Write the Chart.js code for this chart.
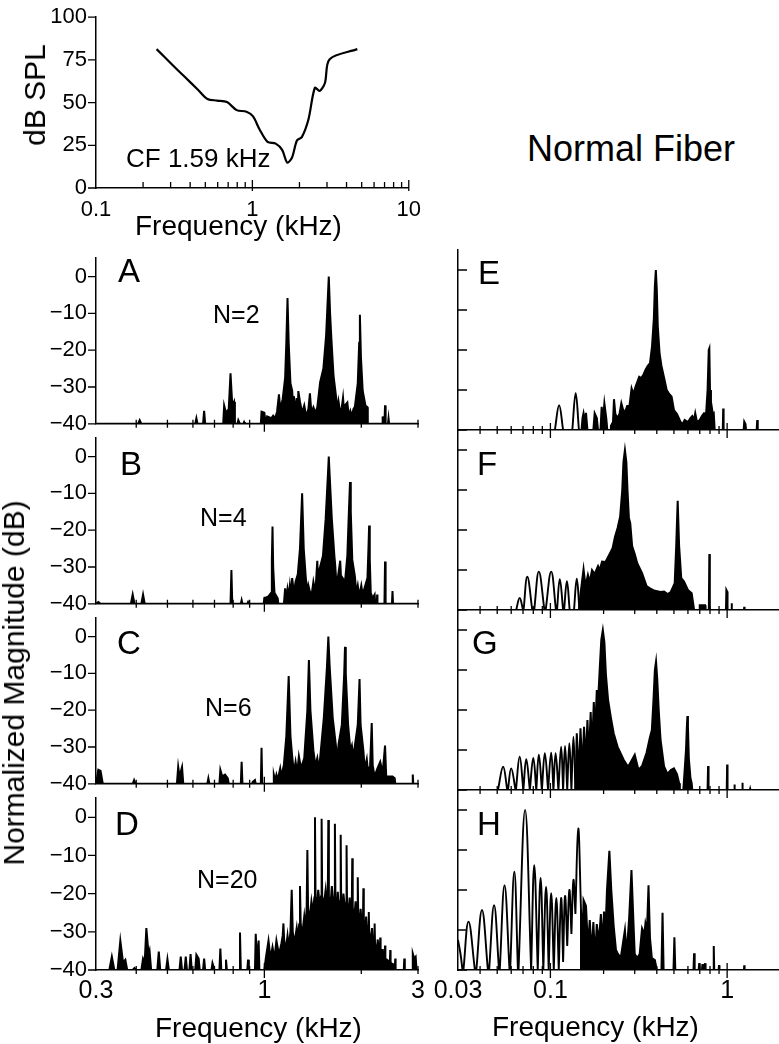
<!DOCTYPE html>
<html>
<head>
<meta charset="utf-8">
<script src="https://cdn.jsdelivr.net/npm/chart.js@4.4.1/dist/chart.umd.min.js"></script>
<style>
  body { margin: 0; width: 779px; height: 1044px; position: relative; overflow: hidden; background: #fff;
         font-family: "Liberation Sans", Arial, sans-serif; color: #000; }
  canvas { position: absolute; }
  .t { position: absolute; line-height: 1; white-space: nowrap; }
  .rot { transform: translate(-50%, -50%) rotate(-90deg); }
</style>
</head>
<body>
<canvas id="tc" width="430" height="250" style="left:0;top:-5px"></canvas>
<canvas id="pA" width="440" height="210" style="left:0;top:236px"></canvas>
<canvas id="pB" width="440" height="210" style="left:0;top:416px"></canvas>
<canvas id="pC" width="440" height="210" style="left:0;top:596px"></canvas>
<canvas id="pD" width="440" height="239" style="left:0;top:776px"></canvas>
<canvas id="pE" width="359" height="210" style="left:420px;top:236px"></canvas>
<canvas id="pF" width="359" height="210" style="left:420px;top:416px"></canvas>
<canvas id="pG" width="359" height="210" style="left:420px;top:596px"></canvas>
<canvas id="pH" width="359" height="239" style="left:420px;top:776px"></canvas>

<div class="t rot" style="left:35px;top:95px;font-size:30px">dB SPL</div>
<div class="t" style="left:135px;top:212px;font-size:28px">Frequency (kHz)</div>
<div class="t" style="left:126px;top:145px;font-size:26px">CF 1.59 kHz</div>
<div class="t" style="left:527px;top:131px;font-size:36px">Normal Fiber</div>
<div class="t rot" style="left:14px;top:683px;font-size:30px">Normalized Magnitude (dB)</div>
<div class="t" style="left:155px;top:1014px;font-size:28px">Frequency (kHz)</div>
<div class="t" style="left:492px;top:1013px;font-size:28px">Frequency (kHz)</div>

<div class="t" style="left:118px;top:254px;font-size:33px">A</div>
<div class="t" style="left:120px;top:447px;font-size:33px">B</div>
<div class="t" style="left:117px;top:626px;font-size:33px">C</div>
<div class="t" style="left:115px;top:807px;font-size:33px">D</div>
<div class="t" style="left:478px;top:256px;font-size:33px">E</div>
<div class="t" style="left:477px;top:447px;font-size:33px">F</div>
<div class="t" style="left:472px;top:626px;font-size:33px">G</div>
<div class="t" style="left:477px;top:807px;font-size:33px">H</div>

<div class="t" style="left:213px;top:302px;font-size:25px">N=2</div>
<div class="t" style="left:200px;top:505px;font-size:25px">N=4</div>
<div class="t" style="left:205px;top:695px;font-size:25px">N=6</div>
<div class="t" style="left:197px;top:867px;font-size:25px">N=20</div>

<script>
// tuning curve (threshold vs frequency)
const tcFreq = [0.244, 0.304, 0.369, 0.447, 0.516, 0.596, 0.688, 0.794, 0.917, 1.01, 1.11, 1.25, 1.41, 1.55, 1.67, 1.79, 1.93, 2.07, 2.28, 2.51, 2.69, 2.91, 3.12, 4.69];
const tcDb   = [81.3, 72.6, 65.1, 57.7, 52.1, 51.2, 50.3, 45.6, 44.7, 41.9, 34.4, 27, 26, 22.3, 14.9, 17.7, 27.9, 29.8, 40, 58.7, 56.8, 61.5, 75.4, 81.3];

// ticks
const tcXTicks = [0.2, 0.3, 0.4, 0.5, 0.6, 0.7, 0.8, 0.9, 1, 2, 3, 4, 5, 6, 7, 8, 9, 10];
const tcXLabels = { 0.1: '0.1', 1: '1', 10: '10' };
const tcYTicks = [0, 25, 50, 75, 100];
const leftXTicks = [0.4, 0.5, 0.6, 0.7, 0.8, 0.9, 1, 2, 3];
const leftXLabels = { 0.3: '0.3', 1: '1', 3: '3' };
const rightXTicks = [0.04, 0.05, 0.06, 0.07, 0.08, 0.09, 0.1, 0.2, 0.3, 0.4, 0.5, 0.6, 0.7, 0.8, 0.9, 1];
const rightXLabels = { 0.03: '0.03', 0.1: '0.1', 1: '1' };
const magTicks = [-40, -30, -20, -10, 0];

// spectra, [kHz, dB]
const traceA = [[0.3,-40],[0.405,-40],[0.41,-39],[0.415,-40],[0.61,-40],[0.615,-38.5],[0.62,-40],[0.645,-40],[0.65,-36.5],[0.655,-40],
  [0.745,-40],[0.75,-35],[0.76,-37],[0.775,-36],[0.785,-26.3],[0.795,-35],[0.805,-34],[0.81,-40],[0.825,-40],[0.83,-39],[0.84,-40],[0.86,-40],[0.865,-39.5],[0.87,-40],
  [0.975,-40],[0.98,-36.7],[1.0,-37],[1.01,-40],[1.02,-38],[1.05,-38.5],[1.065,-37.8],[1.08,-38.5],[1.095,-36.7],[1.11,-32],[1.12,-36],[1.14,-33.3],[1.16,-27.5],[1.17,-18],[1.18,-5.8],[1.19,-18],[1.205,-29],
  [1.22,-31],[1.23,-36],[1.235,-32.5],[1.25,-37],[1.26,-33],[1.27,-36],[1.275,-31.1],[1.29,-34],[1.31,-37],[1.33,-35],[1.35,-38],[1.37,-36],[1.385,-31.7],[1.4,-37],[1.42,-35.5],[1.44,-37],[1.46,-35.5],[1.49,-28.7],[1.525,-25],[1.555,-16],[1.57,-8],[1.585,0],[1.6,-10],[1.615,-17],[1.64,-27],[1.67,-32.7],
  [1.69,-36],[1.7,-34],[1.72,-37],[1.74,-35.5],[1.755,-32.9],[1.77,-37],[1.78,-35],[1.81,-34.2],[1.83,-38],[1.85,-36.5],[1.87,-38],[1.89,-36],[1.91,-35.4],[1.95,-29],[1.97,-18],[1.98,-10.4],[1.995,-22],[2.02,-31],[2.06,-35],[2.09,-35.5],[2.095,-40],
  [2.32,-40],[2.33,-38],[2.34,-40],[2.36,-40],[2.37,-35],[2.38,-40],[2.42,-40],[2.43,-38.5],[2.44,-40],[3,-40]];

const traceB = [[0.3,-40],[0.305,-39.5],[0.31,-40],[0.385,-40],[0.39,-37.5],[0.395,-40],[0.415,-40],[0.42,-37.5],[0.425,-40],
  [0.785,-40],[0.79,-30.8],[0.795,-40],[0.845,-40],[0.85,-39],[0.855,-40],[0.885,-40],[0.89,-39.5],[0.895,-40],
  [0.995,-40],[1.0,-38.5],[1.03,-38],[1.05,-37],[1.055,-28],[1.06,-19],[1.065,-30],[1.075,-37],[1.1,-38.5],[1.105,-40],
  [1.15,-40],[1.16,-35.8],[1.17,-39],[1.18,-36],[1.19,-38],[1.2,-35],[1.21,-38],[1.22,-33],[1.235,-37],[1.25,-34],[1.27,-32],[1.29,-25],[1.31,-10],[1.325,-25],[1.345,-33],[1.36,-37],[1.37,-35],[1.385,-36.7],
  [1.4,-38],[1.42,-34],[1.44,-37],[1.46,-28.3],[1.47,-35],[1.48,-31],[1.52,-27],[1.55,-17],[1.575,-5],[1.585,0],[1.595,-5],[1.62,-17],[1.65,-27],[1.66,-29.6],[1.675,-35],[1.69,-33],[1.72,-28.3],[1.735,-35],[1.75,-33],[1.78,-34],[1.81,-27],[1.83,-15],[1.845,-6.9],[1.855,-15],[1.875,-28],
  [1.91,-32.5],[1.93,-37],[1.95,-35],[1.97,-38],[2.0,-35],[2.02,-37.5],[2.05,-35.5],[2.09,-33],[2.105,-25],[2.115,-18.7],[2.125,-28],[2.14,-37],[2.17,-38.5],[2.2,-37.5],[2.21,-40],
  [2.235,-40],[2.24,-37.5],[2.245,-40],[2.36,-40],[2.37,-28.5],[2.38,-40],[2.49,-40],[2.5,-36.5],[2.51,-40],[3,-40]];

const traceC = [[0.3,-40],[0.305,-36.2],[0.31,-36.5],[0.315,-40],[0.39,-40],[0.394,-39],[0.398,-40],
  [0.535,-40],[0.54,-35.4],[0.545,-38],[0.555,-35.4],[0.56,-40],[0.665,-40],[0.67,-38.5],[0.675,-40],
  [0.725,-40],[0.73,-36.2],[0.74,-38],[0.755,-37.5],[0.77,-38.5],[0.775,-40],[0.845,-40],[0.85,-34],[0.855,-40],[0.915,-40],[0.92,-39.5],[0.935,-39],[0.94,-40],
  [0.975,-40],[0.98,-30.2],[0.985,-40],[1.065,-40],[1.07,-37.5],[1.08,-39],[1.09,-37.5],[1.1,-39],[1.12,-35.8],[1.13,-38],[1.15,-34.8],[1.17,-27],[1.19,-10.7],[1.205,-27],[1.22,-32.5],[1.235,-37],[1.25,-34],[1.265,-37],[1.28,-32.5],[1.3,-35.8],
  [1.33,-33],[1.36,-20],[1.375,-6.4],[1.39,-20],[1.42,-31],[1.44,-35],[1.46,-33],[1.475,-36],[1.49,-33],[1.53,-22],[1.565,-8],[1.58,0],[1.595,-8],[1.63,-22],[1.67,-30],[1.685,-34],[1.7,-29.2],[1.74,-24],[1.77,-10],[1.78,-2.8],[1.79,-10],[1.82,-24],
  [1.85,-31],[1.87,-29.6],[1.89,-33],[1.91,-29.6],[1.95,-24],[1.975,-11.5],[1.99,-24],[2.03,-31],[2.05,-36],[2.08,-33.3],[2.1,-37],[2.13,-35],[2.155,-23.5],[2.17,-35],[2.2,-38],[2.24,-36],[2.29,-34],[2.33,-37],[2.37,-29.6],[2.39,-38],[2.44,-38],[2.5,-38],[2.54,-38.5],[2.55,-40],
  [2.88,-40],[2.89,-37.5],[2.9,-40],[3,-40]];

const traceD = [[0.3,-40],[0.33,-40],[0.336,-36.5],[0.342,-40],[0.35,-40],[0.357,-32.3],[0.364,-38],[0.37,-37.3],[0.375,-40],[0.39,-40],[0.395,-39.5],[0.4,-40],
  [0.415,-40],[0.42,-37],[0.425,-38],[0.43,-29],[0.437,-36],[0.44,-35],[0.445,-40],[0.465,-40],[0.47,-35.2],[0.475,-40],[0.495,-40],[0.5,-37.2],[0.505,-40],
  [0.545,-40],[0.55,-36.5],[0.555,-40],[0.565,-40],[0.57,-36.5],[0.575,-40],[0.585,-40],[0.59,-35.8],[0.595,-40],[0.61,-40],[0.615,-36],[0.625,-37],[0.63,-40],[0.645,-40],[0.65,-37],[0.655,-40],
  [0.685,-40],[0.69,-38.2],[0.7,-40],[0.725,-40],[0.73,-34.4],[0.735,-40],[0.755,-40],[0.76,-37.3],[0.765,-40],
  [0.835,-40],[0.84,-30.2],[0.845,-40],[0.885,-40],[0.89,-37.3],[0.895,-40],[0.935,-40],[0.94,-30.5],[0.95,-38],[0.96,-32.3],[0.965,-40],
  [1.0,-40],[1.01,-37],[1.03,-32.3],[1.045,-37],[1.06,-34],[1.075,-37],[1.09,-32.3],[1.11,-36],[1.13,-33],[1.14,-31],[1.146,-27.8],[1.152,-32],[1.165,-35],[1.18,-31],[1.19,-34],[1.205,-30],[1.216,-19],[1.225,-30],
  [1.24,-33],[1.26,-29],[1.27,-32],[1.283,-28],[1.29,-18],[1.297,-28],[1.31,-31],[1.33,-26],[1.34,-29],[1.353,-24],[1.36,-8.6],[1.367,-24],[1.38,-27],[1.4,-22],[1.415,-25],[1.43,-21],[1.436,0],[1.442,-21],[1.455,-24],[1.47,-19],[1.485,-23],[1.5,-20.7],[1.506,-0.4],[1.512,-20.7],
  [1.53,-23],[1.55,-19],[1.565,-23],[1.574,-20.7],[1.58,-0.7],[1.586,-20.7],[1.605,-23],[1.62,-18],[1.64,-23],[1.65,-21],[1.656,-1.7],[1.662,-21],[1.68,-24],[1.69,-19.5],[1.705,-24],[1.72,-22],[1.726,-4.6],[1.732,-22],[1.745,-25],[1.76,-20],[1.78,-24],[1.794,-22.5],[1.8,-7.3],[1.806,-22.5],
  [1.82,-26],[1.84,-21],[1.855,-25],[1.869,-23],[1.875,-10.7],[1.881,-23.5],[1.9,-27],[1.92,-22],[1.935,-27],[1.944,-25],[1.95,-15.7],[1.956,-25],[1.97,-29],[1.99,-24],[2.01,-29],[2.024,-27],[2.03,-18.6],[2.036,-27],[2.05,-31],[2.07,-26],[2.09,-31],[2.104,-29],[2.11,-24.8],[2.116,-30],
  [2.135,-33],[2.16,-29],[2.18,-34],[2.194,-32],[2.2,-27.8],[2.206,-33],[2.225,-36],[2.25,-32],[2.27,-36],[2.284,-35],[2.29,-31.5],[2.296,-35.5],[2.31,-38],[2.33,-34.5],[2.35,-38],[2.364,-36.5],[2.37,-33.6],[2.376,-37],[2.42,-37.5],[2.454,-38],[2.46,-34.8],[2.466,-38],
  [2.5,-38.5],[2.544,-38.5],[2.55,-37],[2.556,-40],[2.71,-40],[2.72,-37],[2.73,-40],[2.88,-40],[2.89,-35.7],[2.92,-37],[2.95,-36.5],[2.97,-40],[3,-40]];

const lobesE = [[0.106,-40],[0.112,-33.8],[0.118,-40],[0.133,-40],[0.139,-30.8],[0.145,-40]];
const traceE = [[0.03,-40],[0.15,-40],[0.152,-37],[0.154,-35.8],[0.157,-38],[0.159,-35.7],[0.162,-40],[0.175,-40],[0.178,-35.8],[0.183,-37],[0.186,-40],[0.192,-40],[0.195,-34.2],[0.198,-38],[0.202,-33.3],[0.207,-37],[0.21,-40],
  [0.218,-40],[0.22,-39],[0.226,-38],[0.229,-32.3],[0.233,-36],[0.24,-37],[0.246,-36],[0.252,-33.3],[0.258,-35],[0.265,-35.4],[0.272,-34],[0.28,-34],[0.288,-29.6],[0.295,-31],[0.303,-29.2],[0.31,-28],[0.318,-26.7],[0.326,-27],
  [0.335,-26.3],[0.345,-25],[0.355,-24],[0.366,-23.3],[0.376,-19],[0.385,-12],[0.39,-4],[0.395,0],[0.4,-5],[0.405,-14],[0.415,-21],[0.425,-24],[0.44,-27],[0.455,-30],[0.47,-31],[0.485,-31.7],[0.5,-35],[0.52,-36],[0.545,-38],
  [0.56,-38.5],[0.575,-37.5],[0.6,-38],[0.62,-37],[0.635,-36.5],[0.65,-37.5],[0.66,-35.8],[0.675,-38],[0.7,-37.5],[0.72,-36.5],[0.74,-35.8],[0.76,-36],[0.775,-30],[0.787,-20],[0.793,-19.6],[0.8,-30],[0.81,-33],[0.83,-36],[0.84,-35.8],[0.85,-40],
  [0.945,-40],[0.95,-34.6],[0.955,-40],[1.24,-40],[1.25,-37.9],[1.27,-38.5],[1.28,-40],[1.47,-40],[1.48,-37.5],[1.49,-40],[1.94,-40]];

const lobesF = [[0.064,-40],[0.067,-37],[0.07,-40],[0.0705,-40],[0.074,-31.7],[0.079,-40],[0.081,-40],[0.086,-30.4],[0.0925,-40],[0.094,-40],[0.101,-30.4],[0.1075,-40],[0.109,-40],[0.113,-32.3],[0.118,-40],
  [0.1195,-40],[0.124,-32.8],[0.1285,-40],[0.136,-40],[0.141,-32.2],[0.146,-40]];
const traceF = [[0.03,-40],[0.145,-40],[0.148,-36],[0.154,-29.8],[0.158,-34],[0.163,-31.2],[0.167,-33],[0.172,-30],[0.178,-31],[0.186,-29],[0.19,-30],[0.196,-27.9],[0.205,-28],[0.2175,-25.8],[0.225,-24.5],[0.232,-21.7],
  [0.24,-19.5],[0.248,-16.7],[0.255,-10],[0.259,-3],[0.264,0],[0.269,-3],[0.273,-10],[0.278,-17],[0.283,-18.3],[0.29,-24],[0.3,-26],[0.31,-28.3],[0.33,-30.8],[0.35,-34],[0.366,-34.6],[0.39,-35.2],[0.42,-35.5],[0.44,-35.4],
  [0.46,-36],[0.48,-35.5],[0.505,-33.3],[0.515,-24],[0.525,-12.7],[0.535,-24],[0.55,-32],[0.57,-32.9],[0.6,-35],[0.63,-35.8],[0.65,-40],
  [0.695,-40],[0.7,-38.8],[0.75,-38.8],[0.755,-40],[0.788,-40],[0.793,-26],[0.798,-40],[0.985,-40],[0.99,-35],[1.0,-35.4],[1.005,-40],[1.055,-40],[1.06,-38.3],[1.065,-40],[1.245,-40],[1.25,-39.2],[1.255,-40],[1.94,-40]];

const lobesG = [[0.0505,-40],[0.054,-34.2],[0.057,-40],[0.0575,-40],[0.06,-34.6],[0.0635,-40],[0.0638,-40],[0.067,-31.7],[0.0703,-40],[0.073,-32.3],[0.0765,-40],[0.08,-32],[0.0832,-40],[0.086,-31.2],[0.0895,-40],
  [0.093,-30.8],[0.097,-40],[0.101,-30.7],[0.104,-40],[0.107,-30.8],[0.111,-40],[0.115,-29.2],[0.118,-40],[0.121,-29],[0.1245,-40],[0.128,-28.3],[0.1315,-40],[0.135,-26.7],[0.1385,-40]];
const traceG = [[0.03,-40],[0.1385,-40],[0.141,-25.8],[0.1445,-36],[0.148,-24.6],[0.1515,-35],[0.155,-24.2],[0.1585,-33],[0.162,-22.5],[0.165,-32],[0.169,-20.5],[0.172,-30],[0.176,-18],[0.179,-26],[0.183,-15],[0.186,-18],
  [0.19,-10],[0.194,-2.5],[0.198,0],[0.202,-3],[0.206,-11],[0.212,-17.5],[0.22,-22],[0.228,-25.8],[0.24,-29.2],[0.26,-32.5],[0.275,-34.2],[0.285,-33],[0.3,-31.2],[0.315,-35],[0.33,-34],[0.35,-30.7],[0.365,-27],[0.375,-25],
  [0.383,-17.5],[0.39,-10],[0.396,-7.9],[0.402,-12],[0.41,-20],[0.42,-27.5],[0.44,-34.2],[0.46,-36],[0.48,-35],[0.5,-34.6],[0.52,-36],[0.535,-38.3],[0.54,-40],
  [0.565,-40],[0.575,-35],[0.585,-30],[0.592,-24],[0.596,-21.5],[0.6,-24],[0.607,-32],[0.62,-37],[0.63,-38.3],[0.635,-40],
  [0.775,-40],[0.78,-34],[0.785,-40],[0.995,-40],[1.0,-33.6],[1.005,-40],[1.095,-40],[1.1,-38.6],[1.105,-40],[1.215,-40],[1.22,-38.2],[1.225,-40],[1.345,-40],[1.35,-39.7],[1.355,-40],[1.94,-40]];

const lobesH = [[0.03,-32.5],[0.031,-36],[0.0318,-40],[0.0322,-40],[0.0344,-27.9],[0.0374,-40],[0.0381,-40],[0.041,-25],[0.0443,-40],[0.045,-40],[0.048,-23.8],[0.0512,-40],[0.0517,-40],[0.055,-18.8],[0.0587,-40],
  [0.0592,-40],[0.0625,-15.4],[0.0655,-40],[0.066,-40],[0.0719,0],[0.0778,-40],[0.081,-13.8],[0.0848,-40],[0.088,-17],[0.0912,-40],[0.0945,-19.2],[0.0978,-40],[0.101,-20.8],[0.1045,-40],[0.108,-22],[0.1115,-40],
  [0.115,-22],[0.118,-38],[0.121,-21.5],[0.1245,-34],[0.128,-20],[0.1315,-31],[0.135,-17.5],[0.1385,-26],[0.1437,-4.6],[0.149,-25]];
const traceH = [[0.149,-40],[0.149,-25],[0.152,-33],[0.154,-22.5],[0.159,-24],[0.163,-34],[0.167,-27.5],[0.171,-36],[0.175,-28],[0.179,-37],[0.183,-28.5],[0.188,-33],[0.193,-26],[0.197,-34],[0.201,-25.4],[0.205,-30],[0.209,-20],[0.2156,-10.2],[0.221,-20],
  [0.228,-29],[0.235,-35],[0.24,-35.8],[0.25,-37],[0.256,-34],[0.264,-30],[0.27,-36],[0.279,-27],[0.2875,-15],[0.295,-28],[0.3,-36],[0.31,-37],[0.32,-36],[0.33,-29.6],[0.34,-31],[0.345,-28.3],[0.352,-30],[0.359,-18.8],
  [0.366,-32],[0.375,-37],[0.39,-37.5],[0.4,-40],[0.425,-40],[0.431,-25.7],[0.437,-40],[0.497,-40],[0.503,-31.8],[0.509,-40],[0.645,-40],[0.65,-35.8],[0.655,-40],[0.69,-40],[0.695,-38.3],[0.7,-40],
  [0.72,-40],[0.725,-38.5],[0.73,-40],[0.745,-40],[0.75,-38.3],[0.755,-40],[0.835,-40],[0.84,-34],[0.845,-40],[0.895,-40],[0.9,-38.8],[0.905,-40],[1.245,-40],[1.25,-38.8],[1.255,-40],[1.94,-40]];

Chart.defaults.font.family = "'Liberation Sans', Arial, sans-serif";
Chart.defaults.color = '#000';

const xy = pts => pts.map(([x, y]) => ({ x, y }));

// sinc-like lobes meet the floor in a point, so each local minimum is doubled
function cusps(pts) {
  const out = [];
  pts.forEach((p, i) => {
    out.push(p);
    const a = pts[i - 1], b = pts[i + 1];
    if ((!a || a[1] >= p[1]) && (!b || b[1] >= p[1])) out.push(p);
  });
  return out;
}

// tick marks drawn from the chart's own scales (inward/crossing ticks)
function tickMarks(cfg) {
  return {
    id: 'tickMarks',
    afterDraw(chart) {
      const { ctx } = chart, xs = chart.scales.x, ys = chart.scales.y;
      ctx.save();
      ctx.strokeStyle = '#000';
      ctx.lineWidth = 1.3;
      ctx.beginPath();
      const yb = xs.top;
      cfg.xTicks.forEach(v => {
        const p = xs.getPixelForValue(v);
        const long = cfg.xLong.includes(v);
        ctx.moveTo(p, yb - (long ? cfg.upLong : cfg.up));
        ctx.lineTo(p, yb + (long ? cfg.downLong : cfg.down));
      });
      cfg.yTicks.forEach(v => {
        const p = ys.getPixelForValue(v);
        ctx.moveTo(ys.right, p);
        ctx.lineTo(ys.right + cfg.yLen, p);
      });
      ctx.stroke();
      ctx.restore();
    }
  };
}

const axisBorder = { color: '#000', width: 1.5 };

// tuning curve
new Chart(document.getElementById('tc'), {
  type: 'line',
  data: { datasets: [{ data: tcFreq.map((f, i) => ({ x: f, y: tcDb[i] })), borderColor: '#000', borderWidth: 2.2, pointRadius: 0, tension: 0.3, fill: false }] },
  options: {
    responsive: false, animation: false, events: [],
    layout: { padding: { top: 14, right: 14, left: 0, bottom: 0 } },
    plugins: { legend: { display: false }, tooltip: { enabled: false } },
    scales: {
      x: {
        type: 'logarithmic', min: 0.1, max: 10,
        afterBuildTicks: s => { s.ticks = [0.1, ...tcXTicks].map(v => ({ value: v })); },
        afterFit: s => { s.height = 57; },
        ticks: { autoSkip: false, maxRotation: 0, padding: 9, font: { size: 22 }, callback: v => tcXLabels[v] || '' },
        grid: { display: false, drawTicks: false }, border: axisBorder
      },
      y: {
        min: 0, max: 100,
        afterBuildTicks: s => { s.ticks = tcYTicks.map(v => ({ value: v })); },
        afterFit: s => { s.width = 96; },
        ticks: { padding: 9, font: { size: 22 } },
        grid: { display: false, drawTicks: false }, border: axisBorder
      }
    }
  },
  plugins: [tickMarks({ xTicks: tcXTicks, xLong: [1, 10], up: 6, upLong: 8, down: 0, downLong: 3, yTicks: tcYTicks, yLen: -8 })]
});

function panel(id, fillPts, linePts, side, showX) {
  const left = side === 'left';
  const datasets = [{ data: xy(fillPts), fill: 'start', backgroundColor: '#000', borderColor: '#000', borderWidth: 2, pointRadius: 0, tension: 0 }];
  if (linePts) datasets.push({ data: xy(cusps(linePts)), fill: false, borderColor: '#000', borderWidth: 1.9, pointRadius: 0, tension: 0.4 });
  const labels = left ? leftXLabels : rightXLabels;
  const xMin = left ? 0.3 : 0.03;
  const xTicks = left ? leftXTicks : rightXTicks;
  new Chart(document.getElementById(id), {
    type: 'line',
    data: { datasets },
    options: {
      responsive: false, animation: false, events: [],
      layout: { padding: { top: 14, right: left ? 22 : 1, left: 0, bottom: 0 } },
      plugins: { legend: { display: false }, tooltip: { enabled: false } },
      scales: {
        x: {
          type: 'logarithmic', min: xMin, max: left ? 3 : 1.94,
          afterBuildTicks: s => { s.ticks = [xMin, ...xTicks].map(v => ({ value: v })); },
          afterFit: s => { s.height = showX ? 45 : 16; },
          ticks: { display: showX, autoSkip: false, maxRotation: 0, padding: 6, font: { size: 25 }, callback: v => labels[v] || '' },
          grid: { display: false, drawTicks: false }, border: axisBorder
        },
        y: {
          min: -40, max: 5,
          afterBuildTicks: s => { s.ticks = magTicks.map(v => ({ value: v })); },
          afterFit: s => { s.width = left ? 96 : 38; },
          ticks: { display: left, padding: 9, font: { size: 22 }, callback: v => (v < 0 ? '\u2212' + Math.abs(v) : String(v)) },
          grid: { display: false, drawTicks: false }, border: axisBorder
        }
      }
    },
    plugins: [tickMarks({ xTicks, xLong: left ? [1] : [0.1, 1], up: 4, upLong: 7, down: 4, downLong: 8, yTicks: magTicks, yLen: left ? -8 : 9 })]
  });
}

panel('pA', traceA, null, 'left', false);
panel('pB', traceB, null, 'left', false);
panel('pC', traceC, null, 'left', false);
panel('pD', traceD, null, 'left', true);
panel('pE', traceE, lobesE, 'right', false);
panel('pF', traceF, lobesF, 'right', false);
panel('pG', traceG, lobesG, 'right', false);
panel('pH', traceH, lobesH, 'right', true);
</script>
</body>
</html>
